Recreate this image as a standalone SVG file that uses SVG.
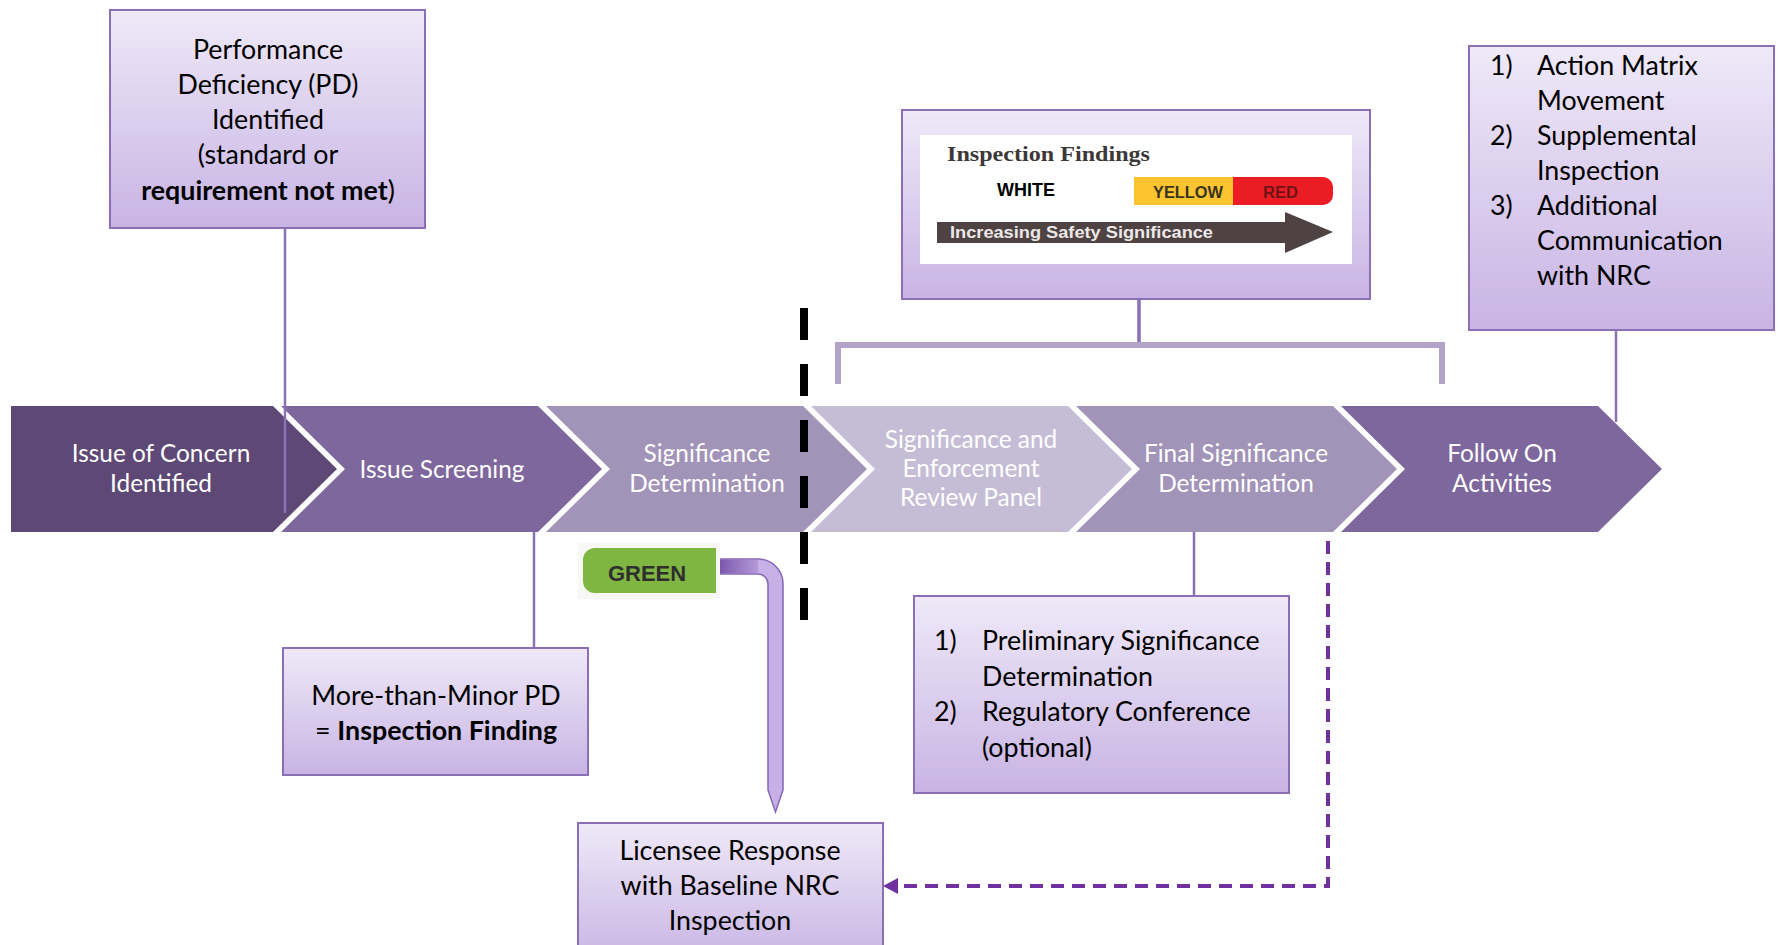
<svg xmlns="http://www.w3.org/2000/svg" width="1779" height="945" viewBox="0 0 1779 945">
  <defs>
    <linearGradient id="boxFill" x1="0" y1="0" x2="0" y2="1">
      <stop offset="0" stop-color="#efe9f8"/>
      <stop offset="1" stop-color="#c8b4e4"/>
    </linearGradient>
    <linearGradient id="pipeFill" x1="716" y1="0" x2="770" y2="0" gradientUnits="userSpaceOnUse">
      <stop offset="0" stop-color="#7650a8"/>
      <stop offset="1" stop-color="#c6b0e6"/>
    </linearGradient>
    <style>
      .box { fill: url(#boxFill); stroke: #8b6fb5; stroke-width: 2; }
      .btxt { font-family: Lato, "Liberation Sans", sans-serif; font-size: 26.8px; fill: #000; }
      .ctxt { font-family: Lato, "Liberation Sans", sans-serif; font-size: 24.4px; fill: #ffffff; text-anchor: middle; }
      .mid { text-anchor: middle; }
      .b { font-weight: bold; }
      .link { stroke: #8a70b5; stroke-width: 2.5; fill: none; }
    </style>
  </defs>

  <rect width="1779" height="945" fill="#ffffff"/>

  <!-- process chevrons -->
  <g id="chevron-issue">
    <polygon points="11,406 273,406 337,469 273,532 11,532" fill="#5d4876"/>
    <text class="ctxt" x="161" y="462">Issue of Concern</text>
    <text class="ctxt" x="161" y="492">Identified</text>
  </g>
  <g id="chevron-screening">
    <polygon points="281,406 538,406 602,469 538,532 281,532 345,469" fill="#7e679d"/>
    <text class="ctxt" x="442" y="478">Issue Screening</text>
  </g>
  <g id="chevron-sd">
    <polygon points="546,406 803,406 867,469 803,532 546,532 610,469" fill="#a293b8"/>
    <text class="ctxt" x="707" y="462">Significance</text>
    <text class="ctxt" x="707" y="492">Determination</text>
  </g>
  <g id="chevron-serp">
    <polygon points="811,406 1068,406 1132,469 1068,532 811,532 875,469" fill="#c5bdd6"/>
    <text class="ctxt" x="971" y="448">Significance and</text>
    <text class="ctxt" x="971" y="477">Enforcement</text>
    <text class="ctxt" x="971" y="506">Review Panel</text>
  </g>
  <g id="chevron-final">
    <polygon points="1076,406 1333,406 1397,469 1333,532 1076,532 1140,469" fill="#a293b8"/>
    <text class="ctxt" x="1236" y="462">Final Significance</text>
    <text class="ctxt" x="1236" y="492">Determination</text>
  </g>
  <g id="chevron-follow">
    <polygon points="1341,406 1598,406 1662,469 1598,532 1341,532 1405,469" fill="#7e679d"/>
    <text class="ctxt" x="1502" y="462">Follow On</text>
    <text class="ctxt" x="1502" y="492">Activities</text>
  </g>

  <!-- divider between screening and panel review -->
  <g id="divider">
    <line x1="804" y1="308" x2="804" y2="620" stroke="#000000" stroke-width="8" stroke-dasharray="32 24"/>
  </g>

  <!-- connectors -->
  <g id="connectors">
    <line class="link" x1="285" y1="228" x2="285" y2="513"/>
    <line class="link" x1="534" y1="532" x2="534" y2="648"/>
    <line class="link" x1="1194" y1="532" x2="1194" y2="597"/>
    <line class="link" x1="1616" y1="329" x2="1616" y2="422"/>
    <line x1="1139" y1="298" x2="1139" y2="345" stroke="#8a70b5" stroke-width="3.5"/>
    <path d="M838,384 V345 H1442 V384" fill="none" stroke="#b3a3c9" stroke-width="6"/>
    <path d="M716,559 H758 A25,25 0 0 1 783,584 V790 L775.5,812 L768,790 V584 A10,10 0 0 0 758,574 H716 Z" fill="#c6b0e6" stroke="#8565b5" stroke-width="1.5"/>
    <path d="M716,559.8 H758 L758,573.2 H716 Z" fill="url(#pipeFill)"/>
    <path d="M1328,541 V886 H897" fill="none" stroke="#7030a0" stroke-width="4" stroke-dasharray="13 8"/>
    <polygon points="883,886 898,878 898,894" fill="#7030a0"/>
  </g>

  <!-- deficiency box -->
  <g id="pd-box">
    <rect class="box" x="110" y="10" width="315" height="218"/>
    <text class="btxt mid" x="268" y="59">Performance</text>
    <text class="btxt mid" x="268" y="94">Deficiency (PD)</text>
    <text class="btxt mid" x="268" y="129">Identified</text>
    <text class="btxt mid" x="268" y="164">(standard or</text>
    <text class="btxt mid" x="268" y="200"><tspan class="b">requirement not met</tspan>)</text>
  </g>

  <!-- finding box -->
  <g id="finding-box">
    <rect class="box" x="283" y="648" width="305" height="127"/>
    <text class="btxt mid" x="436" y="705">More-than-Minor PD</text>
    <text class="btxt mid" x="436" y="740">= <tspan class="b">Inspection Finding</tspan></text>
  </g>

  <!-- color scale box -->
  <g id="findings-scale">
    <rect class="box" x="902" y="110" width="468" height="189"/>
    <rect x="920" y="135" width="432" height="129" fill="#ffffff"/>
    <text x="947" y="161" font-family="'Liberation Serif', serif" font-weight="bold" font-size="22" fill="#3d3838" textLength="203" lengthAdjust="spacingAndGlyphs">Inspection Findings</text>
    <text x="997" y="196" font-family="'Liberation Sans', sans-serif" font-weight="bold" font-size="18" fill="#000000">WHITE</text>
    <rect x="1134" y="177" width="99" height="28" fill="#fcc42f"/>
    <path d="M1233,177 H1323 A10,10 0 0 1 1333,187 V195 A10,10 0 0 1 1323,205 H1233 Z" fill="#ec1c24"/>
    <text x="1153" y="198" font-family="'Liberation Sans', sans-serif" font-weight="bold" font-size="16" fill="#3a3320" textLength="70" lengthAdjust="spacingAndGlyphs">YELLOW</text>
    <text x="1263" y="198" font-family="'Liberation Sans', sans-serif" font-weight="bold" font-size="16" fill="#6e1414" textLength="35" lengthAdjust="spacingAndGlyphs">RED</text>
    <polygon points="937,222 1285,222 1285,212 1333,232 1285,253 1285,243 937,243" fill="#4f4242"/>
    <text x="950" y="238" font-family="'Liberation Sans', sans-serif" font-weight="bold" font-size="16" fill="#ece8e8" textLength="263" lengthAdjust="spacingAndGlyphs">Increasing Safety Significance</text>
  </g>

  <!-- follow-on actions box -->
  <g id="actions-box">
    <rect class="box" x="1469" y="46" width="305" height="284"/>
    <text class="btxt" x="1490" y="75">1)</text>
    <text class="btxt" x="1537" y="75">Action Matrix</text>
    <text class="btxt" x="1537" y="110">Movement</text>
    <text class="btxt" x="1490" y="145">2)</text>
    <text class="btxt" x="1537" y="145">Supplemental</text>
    <text class="btxt" x="1537" y="180">Inspection</text>
    <text class="btxt" x="1490" y="215">3)</text>
    <text class="btxt" x="1537" y="215">Additional</text>
    <text class="btxt" x="1537" y="250">Communication</text>
    <text class="btxt" x="1537" y="285">with NRC</text>
  </g>

  <!-- determination steps box -->
  <g id="steps-box">
    <rect class="box" x="914" y="596" width="375" height="197"/>
    <text class="btxt" x="934" y="650">1)</text>
    <text class="btxt" x="982" y="650">Preliminary Significance</text>
    <text class="btxt" x="982" y="686">Determination</text>
    <text class="btxt" x="934" y="721">2)</text>
    <text class="btxt" x="982" y="721">Regulatory Conference</text>
    <text class="btxt" x="982" y="757">(optional)</text>
  </g>

  <!-- green badge -->
  <g id="green-badge">
    <rect x="578" y="543" width="142" height="56" fill="#f7f7f5"/>
    <path d="M716,548 H595 A12,12 0 0 0 583,560 V581 A12,12 0 0 0 595,593 H716 Z" fill="#7fb541"/>
    <text x="647" y="581" font-family="'Liberation Sans', sans-serif" font-weight="bold" font-size="22" fill="#2f2f2f" text-anchor="middle">GREEN</text>
  </g>

  <!-- licensee response box -->
  <g id="licensee-box">
    <rect class="box" x="578" y="823" width="305" height="140"/>
    <text class="btxt mid" x="730" y="860">Licensee Response</text>
    <text class="btxt mid" x="730" y="895">with Baseline NRC</text>
    <text class="btxt mid" x="730" y="930">Inspection</text>
  </g>
</svg>
